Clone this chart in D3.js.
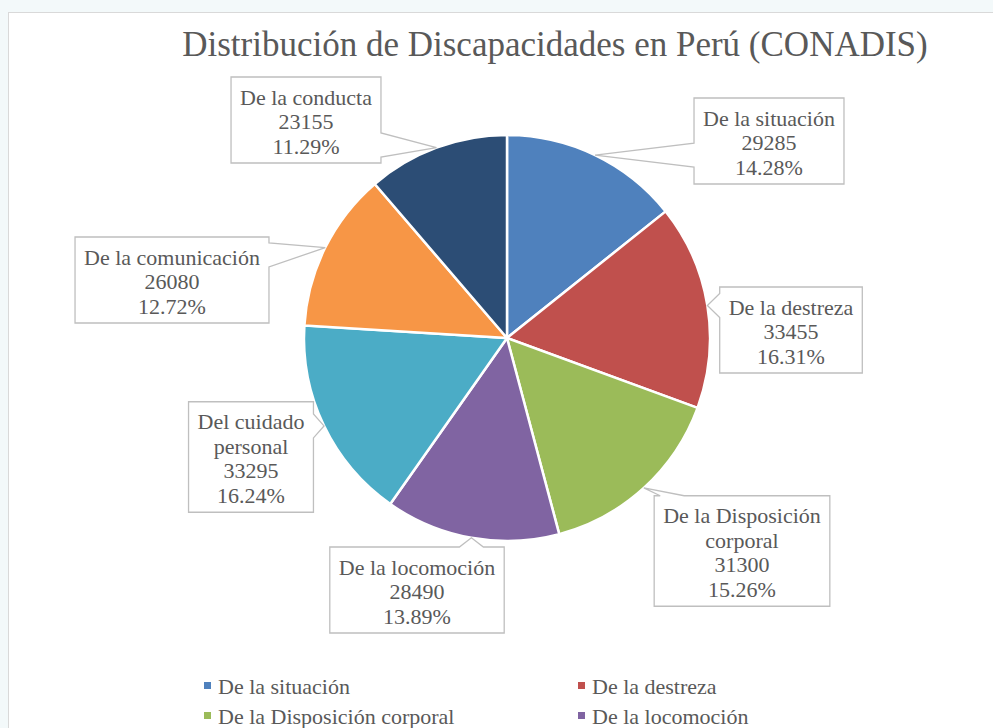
<!DOCTYPE html>
<html>
<head>
<meta charset="utf-8">
<script src="https://cdn.jsdelivr.net/npm/d3@7"></script>
<style>
  html, body { margin: 0; padding: 0; background: #f3f9fa; overflow: hidden; }
  svg { display: block; }
</style>
</head>
<body>
<svg></svg>
<script>
// data
let categories = ["De la situación", "De la destreza", "De la Disposición corporal",
                  "De la locomoción", "Del cuidado personal", "De la comunicación", "De la conducta"];
let values = [29285, 33455, 31300, 28490, 33295, 26080, 23155];
let labelLines = [["De la situación"], ["De la destreza"], ["De la Disposición", "corporal"],
                  ["De la locomoción"], ["Del cuidado", "personal"], ["De la comunicación"], ["De la conducta"]];
let colors = ["#4f81bd", "#c0504d", "#9bbb59", "#8064a2", "#4bacc6", "#f79646", "#2c4d75"];

// callout box placement (center, side the pointer leaves from)
let boxes = [
  {cx: 769, cy: 141, side: "left"},
  {cx: 791, cy: 330, side: "left"},
  {cx: 742, cy: 551, side: "top"},
  {cx: 417, cy: 590, side: "top"},
  {cx: 251, cy: 457, side: "right"},
  {cx: 172, cy: 280, side: "right"},
  {cx: 306, cy: 120, side: "right"}
];

let svgWidth = 993;
let svgHeight = 728;
let cx = 507, cy = 338, radius = 203;
let textColor = "#595959";
let font = '"Liberation Serif"';

var svg = d3.select("svg")
  .attr("width", svgWidth)
  .attr("height", svgHeight);

// chart frame
svg.append("rect")
  .attr("x", 8.5).attr("y", 12.5)
  .attr("width", 1100).attr("height", 900)
  .attr("fill", "#fff")
  .attr("stroke", "#d9d9d9");

// title
svg.append("text")
  .text("Distribución de Discapacidades en Perú (CONADIS)")
  .attr("x", 555).attr("y", 56)
  .attr("text-anchor", "middle")
  .style("font-family", font)
  .attr("font-size", 35)
  .attr("fill", textColor);

let total = d3.sum(values);
let pct = d3.format(".2%");
let pie = d3.pie().sort(null).value(d => d)(values);
let arc = d3.arc().innerRadius(0).outerRadius(radius);

let g = svg.append("g").attr("transform", `translate(${cx},${cy})`);
g.selectAll("path")
  .data(pie)
  .enter()
  .append("path")
    .attr("d", arc)
    .attr("fill", (d, i) => colors[i])
    .attr("stroke", "#fff")
    .attr("stroke-width", 2.5);

// callouts
let lineH = 24.5;
let fontSize = 22;
let clamp = (v, lo, hi) => Math.max(lo, Math.min(hi, v));

function bubble(x0, y0, x1, y1, side, tx, ty) {
  let bw = 24, m = 6, p = [[x0, y0]];
  if (side === "top") { let b = clamp(tx - bw / 2, x0 + m, x1 - m - bw); p.push([b, y0], [tx, ty], [b + bw, y0]); }
  p.push([x1, y0]);
  if (side === "right") { let b = clamp(ty - bw / 2, y0 + m, y1 - m - bw); p.push([x1, b], [tx, ty], [x1, b + bw]); }
  p.push([x1, y1]);
  if (side === "bottom") { let b = clamp(tx - bw / 2, x0 + m, x1 - m - bw); p.push([b + bw, y1], [tx, ty], [b, y1]); }
  p.push([x0, y1]);
  if (side === "left") { let b = clamp(ty - bw / 2, y0 + m, y1 - m - bw); p.push([x0, b + bw], [tx, ty], [x0, b]); }
  return "M" + p.map(q => q.join(",")).join("L") + "Z";
}

pie.forEach((d, i) => {
  let lines = labelLines[i].concat([String(values[i]), pct(values[i] / total)]);
  let bx = boxes[i];
  let cg = svg.append("g");
  let shape = cg.append("path");
  let t = cg.append("text")
    .style("font-family", font)
    .attr("font-size", fontSize)
    .attr("fill", textColor)
    .attr("text-anchor", "middle");
  let h = lines.length * lineH + 12.5;
  let top = bx.cy - h / 2;
  lines.forEach((s, k) => {
    t.append("tspan")
      .text(s)
      .attr("x", bx.cx)
      .attr("y", top + 20 + k * lineH)
      .attr("dy", "0.35em");
  });
  let w = d3.max(t.selectAll("tspan").nodes(), n => n.getComputedTextLength()) + 18;
  let mid = (d.startAngle + d.endAngle) / 2;
  let tx = cx + radius * Math.sin(mid);
  let ty = cy - radius * Math.cos(mid);
  shape
    .attr("d", bubble(bx.cx - w / 2, top, bx.cx + w / 2, top + h, bx.side, tx, ty))
    .attr("fill", "#fff")
    .attr("stroke", "#bfbfbf")
    .attr("stroke-width", 1.3);
});

// legend, two columns (only the rows visible in the window)
let legendX = [204, 578];
let legendY = 686, legendStep = 30;
let legend = svg.selectAll(".legend")
  .data(categories.slice(0, 4))
  .enter()
  .append("g")
    .attr("transform", (d, i) => `translate(${legendX[i % 2]}, ${legendY + Math.floor(i / 2) * legendStep})`);
legend.append("rect")
  .attr("x", 0).attr("y", -4)
  .attr("width", 7).attr("height", 7)
  .attr("fill", (d, i) => colors[i]);
legend.append("text")
  .text(d => d)
  .attr("x", 14).attr("y", 0)
  .attr("dy", "0.35em")
  .style("font-family", font)
  .attr("font-size", 22)
  .attr("fill", textColor);
</script>
</body>
</html>
